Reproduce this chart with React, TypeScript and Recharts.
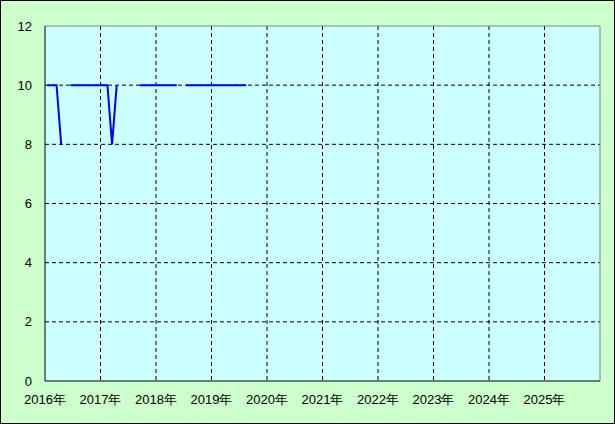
import { LineChart, Line, XAxis, YAxis, CartesianGrid, ReferenceLine } from "recharts"

// monthly observations, Jan 2016 .. Aug 2019 (null = no value)
const months = [
  "2016-01", "2016-02", "2016-03", "2016-04", "2016-05", "2016-06", "2016-07", "2016-08",
  "2016-09", "2016-10", "2016-11", "2016-12", "2017-01", "2017-02", "2017-03", "2017-04",
  "2017-05", "2017-06", "2017-07", "2017-08", "2017-09", "2017-10", "2017-11", "2017-12",
  "2018-01", "2018-02", "2018-03", "2018-04", "2018-05", "2018-06", "2018-07", "2018-08",
  "2018-09", "2018-10", "2018-11", "2018-12", "2019-01", "2019-02", "2019-03", "2019-04",
  "2019-05", "2019-06", "2019-07", "2019-08",
]
const values: (number | null)[] = [
  10, 10, 10, 8, null, 10, 10, 10,
  10, 10, 10, 10, 10, 10, 8, 10,
  null, null, null, null, 10, 10, 10, 10,
  10, 10, 10, 10, 10, null, 10, 10,
  10, 10, 10, 10, 10, 10, 10, 10,
  10, 10, 10, 10,
]
const yearTicks = [2016, 2017, 2018, 2019, 2020, 2021, 2022, 2023, 2024, 2025]
const yTicks = [0, 2, 4, 6, 8, 10, 12]
const gridY = [2, 4, 6, 8, 10]
const gridX = [2017, 2018, 2019, 2020, 2021, 2022, 2023, 2024, 2025]

// place each month in the middle of its span on a numeric year axis
function toYear(ym: string) {
  const [y, m] = ym.split("-").map(Number)
  return y + (m - 0.5) / 12
}

const data = months.map((m, i) => ({ t: toYear(m), v: values[i] }))

const font = '"Liberation Sans", Arial, sans-serif'
const tick = { fill: "#000", fontSize: 13, fontFamily: font }

export default function App() {
  return (
    <div
      style={{
        width: 615,
        height: 424,
        boxSizing: "border-box",
        border: "1px solid #000",
        background: "#ccffcc",
        fontFamily: font,
      }}
    >
      <style>{`body{margin:0}`}</style>
      <LineChart
        width={613}
        height={422}
        data={data}
        margin={{ top: 25, right: 14, bottom: 0, left: 0 }}
      >
        <CartesianGrid
          fill="#ccffff"
          fillOpacity={1}
          stroke="#000"
          strokeDasharray="4 3"
          horizontalValues={gridY}
          verticalValues={gridX}
        />
        <XAxis
          dataKey="t"
          type="number"
          domain={[2016, 2026]}
          ticks={yearTicks}
          tickFormatter={(v) => `${v}年`}
          tick={tick}
          tickSize={0}
          tickMargin={14}
          height={42}
          axisLine={{ stroke: "#000" }}
          allowDataOverflow
        />
        <YAxis
          type="number"
          domain={[0, 12]}
          ticks={yTicks}
          tick={tick}
          tickSize={0}
          tickMargin={13}
          width={44}
          axisLine={{ stroke: "#000" }}
          interval={0}
        />
        <ReferenceLine y={12} stroke="#808080" />
        <ReferenceLine x={2026} stroke="#808080" />
        <Line
          type="linear"
          dataKey="v"
          stroke="#0000ff"
          strokeWidth={2}
          dot={false}
          activeDot={false}
          isAnimationActive={false}
        />
      </LineChart>
    </div>
  )
}
